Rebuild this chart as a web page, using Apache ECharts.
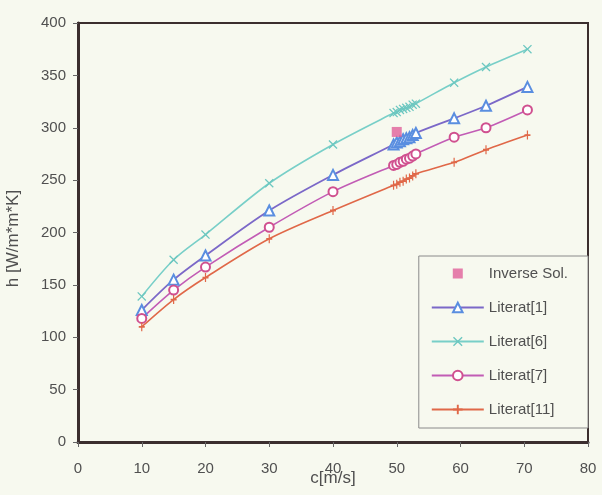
<!DOCTYPE html>
<html>
<head>
<meta charset="utf-8">
<script src="https://cdn.jsdelivr.net/npm/echarts@6/dist/echarts.min.js"></script>
<style>
  html, body { margin: 0; padding: 0; background: #f7f9ef; }
  #chart { width: 602px; height: 495px; }
</style>
</head>
<body>
<div id="chart"></div>
<script>
  // speeds c [m/s] used by the literature curves
  var speeds = [10, 15, 20, 30, 40, 49.5, 50, 50.5, 51, 51.5, 52, 52.5, 53, 59, 64, 70.5];
  var literat1 = [126, 155, 178, 221, 255, 284, 286, 287, 289, 290, 291, 293, 295, 309, 321, 339];
  var literat6 = [139, 174, 198, 247, 284, 314, 315, 317, 318, 319, 320, 322, 323, 343, 358, 375];
  var literat7 = [118, 145, 167, 205, 239, 264, 265, 267, 268, 270, 271, 273, 275, 291, 300, 317];
  var literat11 = [110, 136, 157, 194, 221, 245, 246, 248, 249, 251, 252, 254, 256, 267, 279, 293];
  var inverseX = [50];
  var inverseY = [296];
  var xTicks = [0, 80, 10];
  var yTicks = [0, 400, 50];

  function pairs(xs, ys) {
    return xs.map(function (x, i) { return [x, ys[i]]; });
  }

  var crossPath = 'path://M0,1L1,0L5,4L9,0L10,1L6,5L10,9L9,10L5,6L1,10L0,9L4,5Z';
  var plusPath = 'path://M4,0H6V4H10V6H6V10H4V6H0V4H4Z';
  // small square centred in the wide legend slot (tiny corner dots keep the box size)
  var squareIcon = 'path://M0,0h0.01v0.01h-0.01z M52,12h0.01v0.01h-0.01z M21,1h10v10h-10z';

  var myChart = echarts.init(document.getElementById('chart'));
  var txt = '#505050';
  var frame = '#3b2e2e';

  var option = {
    backgroundColor: '#f7f9ef',
    animation: false,
    textStyle: { fontFamily: 'Liberation Sans, Arial, sans-serif' },
    grid: {
      left: 78, top: 23, right: 14, bottom: 53,
      outerBoundsMode: 'none',
      containLabel: false,
      show: true, borderColor: frame, borderWidth: 2
    },
    legend: {
      orient: 'vertical',
      right: 14,
      top: 256,
      padding: [10, 20, 11, 12],
      itemWidth: 52,
      itemHeight: 12,
      itemGap: 19,
      backgroundColor: '#f7f9ef',
      borderColor: '#8a8a8a',
      borderWidth: 1,
      borderRadius: 0,
      textStyle: { color: txt, fontSize: 15 },
      data: [
        { name: 'Inverse Sol.', icon: squareIcon },
        'Literat[1]', 'Literat[6]', 'Literat[7]', 'Literat[11]'
      ]
    },
    xAxis: {
      type: 'value',
      min: xTicks[0], max: xTicks[1], interval: xTicks[2],
      name: 'c[m/s]',
      nameLocation: 'middle',
      nameGap: 28,
      nameMoveOverlap: false,
      nameTextStyle: { color: txt, fontSize: 17 },
      axisLine: { lineStyle: { color: frame, width: 3 } },
      axisTick: { show: true, length: 5, lineStyle: { color: '#666', width: 1 } },
      axisLabel: { color: txt, fontSize: 15, margin: 19 },
      splitLine: { show: false }
    },
    yAxis: {
      type: 'value',
      min: yTicks[0], max: yTicks[1], interval: yTicks[2],
      name: 'h [W/m*m*K]',
      nameLocation: 'middle',
      nameGap: 56,
      nameMoveOverlap: false,
      nameTextStyle: { color: txt, fontSize: 17, padding: [0, 12, 0, 0] },
      axisLine: { show: true, lineStyle: { color: frame, width: 3 } },
      axisTick: { show: true, length: 5, lineStyle: { color: '#666', width: 1 } },
      axisLabel: { color: txt, fontSize: 15, margin: 12 },
      splitLine: { show: false }
    },
    series: [
      {
        name: 'Inverse Sol.',
        type: 'scatter',
        symbol: 'rect',
        symbolSize: 10,
        itemStyle: { color: '#e0609a' },
        data: pairs(inverseX, inverseY),
        z: 5
      },
      {
        name: 'Literat[1]',
        type: 'line',
        smooth: 0.3,
        symbol: 'emptyTriangle',
        symbolSize: 10,
        lineStyle: { color: '#7b68c8', width: 1.8 },
        itemStyle: { color: '#5a8ee0', borderColor: '#5a8ee0', borderWidth: 1.8 },
        data: pairs(speeds, literat1)
      },
      {
        name: 'Literat[6]',
        type: 'line',
        smooth: 0.3,
        symbol: crossPath,
        symbolSize: 9,
        lineStyle: { color: '#78cfc8', width: 1.6 },
        itemStyle: { color: '#6cc7c0' },
        data: pairs(speeds, literat6)
      },
      {
        name: 'Literat[7]',
        type: 'line',
        smooth: 0.3,
        symbol: 'emptyCircle',
        symbolSize: 9,
        lineStyle: { color: '#c25cb5', width: 1.6 },
        itemStyle: { color: '#d0508f', borderColor: '#d0508f', borderWidth: 1.6 },
        data: pairs(speeds, literat7)
      },
      {
        name: 'Literat[11]',
        type: 'line',
        smooth: 0.3,
        symbol: plusPath,
        symbolSize: [6, 9],
        lineStyle: { color: '#e06848', width: 1.6 },
        itemStyle: { color: '#e06848' },
        data: pairs(speeds, literat11)
      }
    ]
  };
  myChart.setOption(option);
</script>
</body>
</html>
